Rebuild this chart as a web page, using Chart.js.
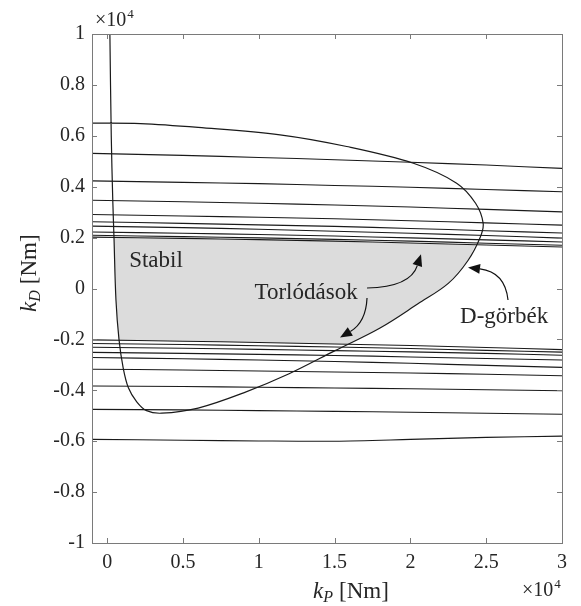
<!DOCTYPE html>
<html>
<head>
<meta charset="utf-8">
<script src="https://cdn.jsdelivr.net/npm/chart.js@4.4.0/dist/chart.umd.min.js"></script>
<style>
  html, body { margin: 0; padding: 0; background: #ffffff; }
  canvas { display: block; }
</style>
</head>
<body>
<canvas id="c" width="581" height="606"></canvas>
<script>
// ---- tick values / labels (axis units: x10^4) ----
const xTicks = [0, 0.5, 1, 1.5, 2, 2.5, 3];
const xTickLabels = ['0', '0.5', '1', '1.5', '2', '2.5', '3'];
const yTicks = [-1, -0.8, -0.6, -0.4, -0.2, 0, 0.2, 0.4, 0.6, 0.8, 1];
const yTickLabels = ['-1', '-0.8', '-0.6', '-0.4', '-0.2', '0', '0.2', '0.4', '0.6', '0.8', '1'];

// ---- D-curves: sampled k_P positions ----
const dCurveX = [-0.1, 0.5, 1.0, 1.5, 2.0, 2.5, 3.0];

// upper family of D-curves (k_D values at dCurveX)
const dUpper1 = [0.531, 0.523, 0.515, 0.506, 0.496, 0.485, 0.472];
const dUpper2 = [0.423, 0.417, 0.412, 0.405, 0.398, 0.389, 0.380];
const dUpper3 = [0.347, 0.341, 0.335, 0.328, 0.320, 0.311, 0.301];
const dUpper4 = [0.291, 0.285, 0.280, 0.274, 0.266, 0.258, 0.249];
const dUpper5 = [0.262, 0.256, 0.250, 0.244, 0.236, 0.227, 0.218];
const dUpper6 = [0.245, 0.239, 0.233, 0.225, 0.217, 0.208, 0.198];
const dUpper7 = [0.222, 0.217, 0.212, 0.206, 0.199, 0.191, 0.183];
const dUpper8 = [0.209, 0.204, 0.199, 0.193, 0.186, 0.178, 0.170];
const dUpper9 = [0.202, 0.197, 0.192, 0.186, 0.179, 0.171, 0.163];

// lower family of D-curves
const dLower1 = [-0.202, -0.207, -0.212, -0.218, -0.224, -0.232, -0.240];
const dLower2 = [-0.216, -0.220, -0.225, -0.230, -0.236, -0.243, -0.250];
const dLower3 = [-0.231, -0.235, -0.239, -0.244, -0.249, -0.255, -0.262];
const dLower4 = [-0.251, -0.255, -0.259, -0.263, -0.269, -0.275, -0.281];
const dLower5 = [-0.271, -0.276, -0.281, -0.287, -0.294, -0.302, -0.310];
const dLower6 = [-0.317, -0.320, -0.324, -0.328, -0.332, -0.337, -0.343];
const dLower7 = [-0.383, -0.385, -0.388, -0.391, -0.394, -0.398, -0.402];
const dLower8 = [-0.475, -0.477, -0.480, -0.483, -0.486, -0.490, -0.494];
const dLower9 = [-0.593, -0.596, -0.599, -0.600, -0.593, -0.585, -0.580];

// ---- main boundary curve ----
const boundaryX = [-0.1, 0.22, 0.6, 1.14, 1.58, 2.02, 2.305, 2.43, 2.48, 2.46, 2.38, 2.25, 2.05, 1.8, 1.5, 1.2, 0.9, 0.6, 0.36, 0.26, 0.195, 0.14, 0.105, 0.078, 0.058, 0.045, 0.037, 0.027, 0.018];
const boundaryY = [0.650, 0.648, 0.633, 0.604, 0.558, 0.492, 0.414, 0.335, 0.256, 0.200, 0.110, 0.020, -0.060, -0.155, -0.245, -0.335, -0.410, -0.470, -0.490, -0.480, -0.445, -0.390, -0.310, -0.200, -0.045, 0.200, 0.348, 0.600, 1.000];

// ---- stable (shaded) region outline ----
const stableX = [0.045, 0.5, 1.0, 1.5, 2.0, 2.43, 2.38, 2.25, 2.05, 1.8, 1.59, 1.5, 1.0, 0.5, 0.078, 0.058, 0.045];
const stableY = [0.201, 0.197, 0.192, 0.186, 0.179, 0.172, 0.110, 0.020, -0.060, -0.155, -0.219, -0.218, -0.212, -0.207, -0.203, -0.045, 0.201];

// ---- text labels ----
const labelStabil = 'Stabil';
const labelCongestion = 'Torlódások';
const labelDCurves = 'D-görbék';

const toPts = (xs, ys) => xs.map((x, i) => ({ x: x, y: ys[i] }));

const lineColor = '#1a1a1a';
const datasets = [];
datasets.push({
  data: toPts(stableX, stableY),
  showLine: true, fill: 'shape', backgroundColor: '#dcdcdc',
  borderColor: 'rgba(0,0,0,0)', borderWidth: 0, tension: 0, pointRadius: 0, order: 10
});
[dUpper1, dUpper2, dUpper3, dUpper4, dUpper5, dUpper6, dUpper7, dUpper8, dUpper9,
 dLower1, dLower2, dLower3, dLower4, dLower5, dLower6, dLower7, dLower8, dLower9].forEach(arr => {
  datasets.push({
    data: toPts(dCurveX, arr), showLine: true, fill: false,
    borderColor: lineColor, borderWidth: 1.1, tension: 0.3, pointRadius: 0, order: 1
  });
});
datasets.push({
  data: toPts(boundaryX, boundaryY), showLine: true, fill: false,
  borderColor: lineColor, borderWidth: 1.2, tension: 0.35, pointRadius: 0, order: 0
});

// annotations in data coordinates
const annotations = {
  texts: [
    { text: labelStabil, x: 0.322, y: 0.108 },
    { text: labelCongestion, x: 1.312, y: -0.016 },
    { text: labelDCurves, x: 2.618, y: -0.112 }
  ],
  arrows: [
    { from: [1.714, 0.002], ctrl: [2.0, 0.006], to: [2.07, 0.135] },
    { from: [1.714, -0.037], ctrl: [1.707, -0.132], to: [1.536, -0.193] },
    { from: [2.644, -0.045], ctrl: [2.624, 0.065], to: [2.38, 0.083] }
  ]
};

const serif = '"Liberation Serif", "DejaVu Serif", serif';

const overlay = {
  id: 'overlay',
  afterDatasetsDraw(chart) {
    const ctx = chart.ctx, xs = chart.scales.x, ys = chart.scales.y;
    const P = (p) => [xs.getPixelForValue(p[0]), ys.getPixelForValue(p[1])];
    ctx.save();
    ctx.fillStyle = '#262626';
    ctx.font = '23px ' + serif;
    ctx.textAlign = 'center';
    ctx.textBaseline = 'middle';
    annotations.texts.forEach(t => {
      ctx.fillText(t.text, xs.getPixelForValue(t.x), ys.getPixelForValue(t.y));
    });
    ctx.strokeStyle = '#111';
    ctx.fillStyle = '#111';
    ctx.lineWidth = 1.2;
    annotations.arrows.forEach(a => {
      const s = P(a.from), c = P(a.ctrl), e = P(a.to);
      const ang = Math.atan2(e[1] - c[1], e[0] - c[0]);
      const L = 12, W = 5;
      const bx = e[0] - L * Math.cos(ang), by = e[1] - L * Math.sin(ang);
      ctx.beginPath();
      ctx.moveTo(s[0], s[1]);
      ctx.quadraticCurveTo(c[0], c[1], bx, by);
      ctx.stroke();
      ctx.beginPath();
      ctx.moveTo(e[0], e[1]);
      ctx.lineTo(bx + W * Math.sin(ang), by - W * Math.cos(ang));
      ctx.lineTo(bx - W * Math.sin(ang), by + W * Math.cos(ang));
      ctx.closePath();
      ctx.fill();
    });
    ctx.restore();
  },
  afterDraw(chart) {
    const ctx = chart.ctx, a = chart.chartArea, xs = chart.scales.x, ys = chart.scales.y;
    ctx.save();
    // box
    ctx.strokeStyle = '#7a7a7a';
    ctx.lineWidth = 1;
    ctx.strokeRect(Math.round(a.left) + 0.5, Math.round(a.top) + 0.5,
      Math.round(a.right - a.left), Math.round(a.bottom - a.top));
    // inner ticks
    const tl = 5;
    ctx.beginPath();
    xTicks.forEach(v => {
      const px = Math.round(xs.getPixelForValue(v)) + 0.5;
      ctx.moveTo(px, a.bottom); ctx.lineTo(px, a.bottom - tl);
      ctx.moveTo(px, a.top); ctx.lineTo(px, a.top + tl);
    });
    yTicks.forEach(v => {
      const py = Math.round(ys.getPixelForValue(v)) + 0.5;
      ctx.moveTo(a.left, py); ctx.lineTo(a.left + tl, py);
      ctx.moveTo(a.right, py); ctx.lineTo(a.right - tl, py);
    });
    ctx.stroke();

    ctx.fillStyle = '#262626';
    ctx.textBaseline = 'alphabetic';
    ctx.textAlign = 'left';
    const drawTitle = (x0, y0, sub) => {
      let x = x0;
      ctx.font = 'italic 23px ' + serif;
      ctx.fillText('k', x, y0); x += ctx.measureText('k').width;
      ctx.font = 'italic 16px ' + serif;
      ctx.fillText(sub, x, y0 + 4); x += ctx.measureText(sub).width + 6;
      ctx.font = '23px ' + serif;
      ctx.fillText('[Nm]', x, y0);
    };
    drawTitle(313, 598, 'P');
    ctx.save();
    ctx.translate(36, 312);
    ctx.rotate(-Math.PI / 2);
    drawTitle(0, 0, 'D');
    ctx.restore();
    const drawExp = (x0, y0) => {
      ctx.font = '20px ' + serif;
      ctx.fillText('\u00d710', x0, y0);
      const w = ctx.measureText('\u00d710').width;
      ctx.font = '13px ' + serif;
      ctx.fillText('4', x0 + w + 1, y0 - 8);
    };
    drawExp(95, 26);
    drawExp(522, 596);
    ctx.restore();
  }
};

new Chart(document.getElementById('c'), {
  type: 'scatter',
  data: { datasets: datasets },
  options: {
    responsive: false,
    animation: false,
    devicePixelRatio: 1,
    layout: { padding: { left: 0, right: 19, top: 34, bottom: 0 } },
    plugins: { legend: { display: false }, tooltip: { enabled: false } },
    elements: { point: { radius: 0 } },
    scales: {
      x: {
        type: 'linear', min: -0.1, max: 3,
        afterBuildTicks: s => { s.ticks = xTicks.map(v => ({ value: v })); },
        afterFit: s => { s.height = 63; },
        grid: { display: false, drawTicks: false },
        border: { display: false },
        ticks: {
          callback: (v, i) => xTickLabels[i],
          font: { family: serif, size: 20 }, color: '#262626',
          padding: 8, maxRotation: 0, autoSkip: false
        }
      },
      y: {
        type: 'linear', min: -1, max: 1,
        afterBuildTicks: s => { s.ticks = yTicks.map(v => ({ value: v })); },
        afterFit: s => { s.width = 92; },
        grid: { display: false, drawTicks: false },
        border: { display: false },
        ticks: {
          callback: (v, i) => yTickLabels[i],
          font: { family: serif, size: 20 }, color: '#262626',
          padding: 7, autoSkip: false
        }
      }
    }
  },
  plugins: [overlay]
});
</script>
</body>
</html>
